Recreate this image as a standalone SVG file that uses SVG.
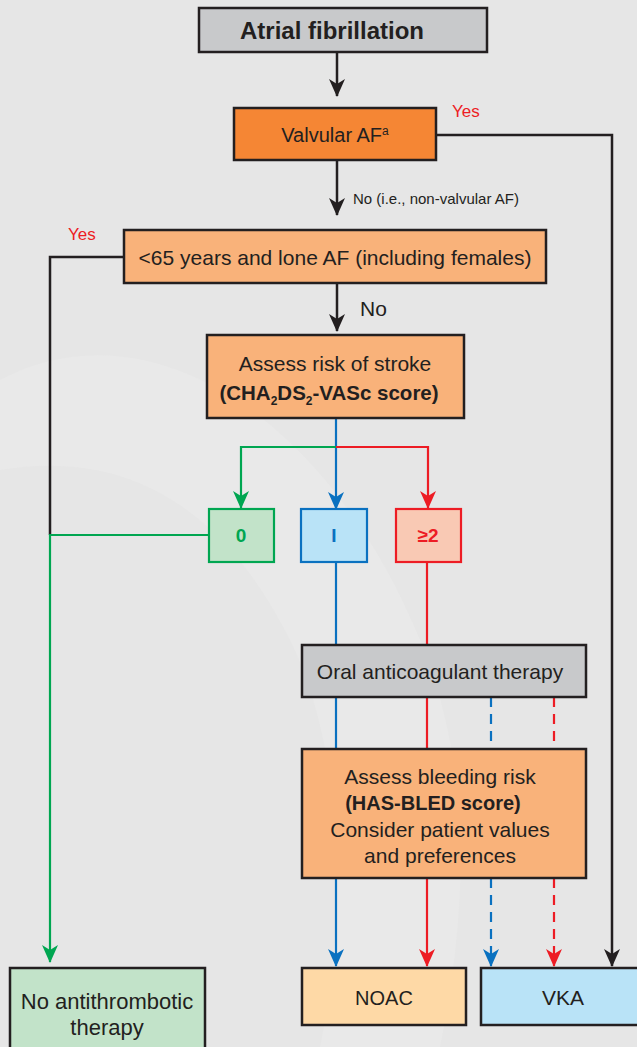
<svg xmlns="http://www.w3.org/2000/svg" width="637" height="1047" viewBox="0 0 637 1047">
<defs>
<style>
text{font-family:"Liberation Sans",Arial,sans-serif;fill:#231f20;text-anchor:middle}
.box{stroke:#231f20;stroke-width:2.5}
.lk{fill:none;stroke:#231f20;stroke-width:2.5}
.lg{fill:none;stroke:#00a651;stroke-width:2.2}
.lb{fill:none;stroke:#0a71c0;stroke-width:2.2}
.lr{fill:none;stroke:#ed1c24;stroke-width:2.2}
.dash{stroke-dasharray:10,7}
.yes{fill:#ed1c24;text-anchor:start;font-size:17px}
.t{font-size:21px}
</style>
<marker id="ak" viewBox="0 0 18 16" refX="17" refY="8" markerWidth="18" markerHeight="16" markerUnits="userSpaceOnUse" orient="auto"><path d="M0,0 L18,8 L0,16 L5,8 Z" fill="#231f20"/></marker>
<marker id="ag" viewBox="0 0 18 16" refX="17" refY="8" markerWidth="18" markerHeight="16" markerUnits="userSpaceOnUse" orient="auto"><path d="M0,0 L18,8 L0,16 L5,8 Z" fill="#00a651"/></marker>
<marker id="ab" viewBox="0 0 18 16" refX="17" refY="8" markerWidth="18" markerHeight="16" markerUnits="userSpaceOnUse" orient="auto"><path d="M0,0 L18,8 L0,16 L5,8 Z" fill="#0a71c0"/></marker>
<marker id="ar" viewBox="0 0 18 16" refX="17" refY="8" markerWidth="18" markerHeight="16" markerUnits="userSpaceOnUse" orient="auto"><path d="M0,0 L18,8 L0,16 L5,8 Z" fill="#ed1c24"/></marker>
</defs>
<rect width="637" height="1047" fill="#e6e6e6"/>
<path d="M0,380 C150,300 330,420 420,640 C470,760 470,900 440,1047 L320,1047 C350,900 340,740 290,640 C220,500 120,450 0,470 Z" fill="#e9e9e9"/>

<g id="connectors">
<path class="lk" d="M337,52 V96" marker-end="url(#ak)"/>
<path class="lk" d="M436,135 H612 V966" marker-end="url(#ak)"/>
<path class="lk" d="M337,160 V215" marker-end="url(#ak)"/>
<path class="lk" d="M337,283 V331" marker-end="url(#ak)"/>
<path class="lk" d="M124,257 H50 V535"/>
<path class="lg" d="M209,535 H50 V962" marker-end="url(#ag)"/>
<path class="lb" d="M336,418 V509" marker-end="url(#ab)"/>
<path class="lg" d="M336,447 H241 V508" marker-end="url(#ag)"/>
<path class="lr" d="M336,447 H428 V508" marker-end="url(#ar)"/>
<path class="lb" d="M336,562 V645"/>
<path class="lr" d="M427,562 V645"/>
<path class="lb" d="M336,697 V749"/>
<path class="lr" d="M427,697 V749"/>
<path class="lb dash" d="M491,697 V749"/>
<path class="lr dash" d="M554,697 V749"/>
<path class="lb" d="M336,878 V966" marker-end="url(#ab)"/>
<path class="lr" d="M427,878 V966" marker-end="url(#ar)"/>
<path class="lb dash" d="M491,878 V966" marker-end="url(#ab)"/>
<path class="lr dash" d="M554,878 V966" marker-end="url(#ar)"/>
<text class="yes" x="452" y="117">Yes</text>
<text class="yes" x="68" y="240">Yes</text>
<text x="353" y="204" style="text-anchor:start;font-size:15px">No (i.e., non-valvular AF)</text>
<text x="360" y="316" style="text-anchor:start;font-size:21px">No</text>
</g>

<g id="n-af">
<rect class="box" x="199" y="8" width="288" height="44" fill="#c8c9cb"/>
<text x="332" y="39" style="font-size:24px;font-weight:bold">Atrial fibrillation</text>
</g>
<g id="n-valvular">
<rect class="box" x="234" y="108" width="202" height="52" fill="#f58634"/>
<text x="335" y="142" style="font-size:20px">Valvular AF<tspan dy="-7" style="font-size:12px">a</tspan></text>
</g>
<g id="n-lone">
<rect class="box" x="124" y="230" width="422" height="53" fill="#f9b27a"/>
<text class="t" x="335" y="265">&lt;65 years and lone AF (including females)</text>
</g>
<g id="n-stroke">
<rect class="box" x="207" y="335" width="257" height="83" fill="#f9b27a"/>
<text class="t" x="335" y="371">Assess risk of stroke</text>
<text x="329" y="400" style="font-size:20.5px;font-weight:bold">(CHA<tspan dy="5" style="font-size:12px">2</tspan><tspan dy="-5">DS</tspan><tspan dy="5" style="font-size:12px">2</tspan><tspan dy="-5">-VASc score)</tspan></text>
</g>
<g id="n-0">
<rect x="209" y="509" width="65" height="53" fill="#c2e3c9" stroke="#00a651" stroke-width="2.2"/>
<text x="241" y="542" style="font-size:19px;font-weight:bold;fill:#00a651">0</text>
</g>
<g id="n-1">
<rect x="301" y="509" width="66" height="53" fill="#b9e3f7" stroke="#0a71c0" stroke-width="2.2"/>
<text x="334" y="542" style="font-size:19px;font-weight:bold;fill:#0a71c0">I</text>
</g>
<g id="n-2">
<rect x="396" y="509" width="65" height="53" fill="#f9c9b4" stroke="#ed1c24" stroke-width="2.2"/>
<text x="428" y="542" style="font-size:19px;font-weight:bold;fill:#ed1c24">≥2</text>
</g>
<g id="n-oac">
<rect class="box" x="302" y="645" width="284" height="52" fill="#c8c9cb"/>
<text class="t" x="440" y="679">Oral anticoagulant therapy</text>
</g>
<g id="n-bleed">
<rect class="box" x="302" y="749" width="284" height="129" fill="#f9b27a"/>
<text class="t" x="440" y="784">Assess bleeding risk</text>
<text x="433" y="810" style="font-size:20px;font-weight:bold">(HAS-BLED score)</text>
<text class="t" x="440" y="837">Consider patient values</text>
<text class="t" x="440" y="863">and preferences</text>
</g>
<g id="n-none">
<rect class="box" x="10" y="968" width="195" height="90" fill="#c2e3c9"/>
<text x="107" y="1009" style="font-size:22px">No antithrombotic</text>
<text x="107" y="1035" style="font-size:22px">therapy</text>
</g>
<g id="n-noac">
<rect class="box" x="302" y="968" width="164" height="57" fill="#fed9a6"/>
<text x="384" y="1005" style="font-size:20px">NOAC</text>
</g>
<g id="n-vka">
<rect class="box" x="481" y="968" width="170" height="57" fill="#b9e3f7"/>
<text x="563" y="1005" style="font-size:21px">VKA</text>
</g>
</svg>
